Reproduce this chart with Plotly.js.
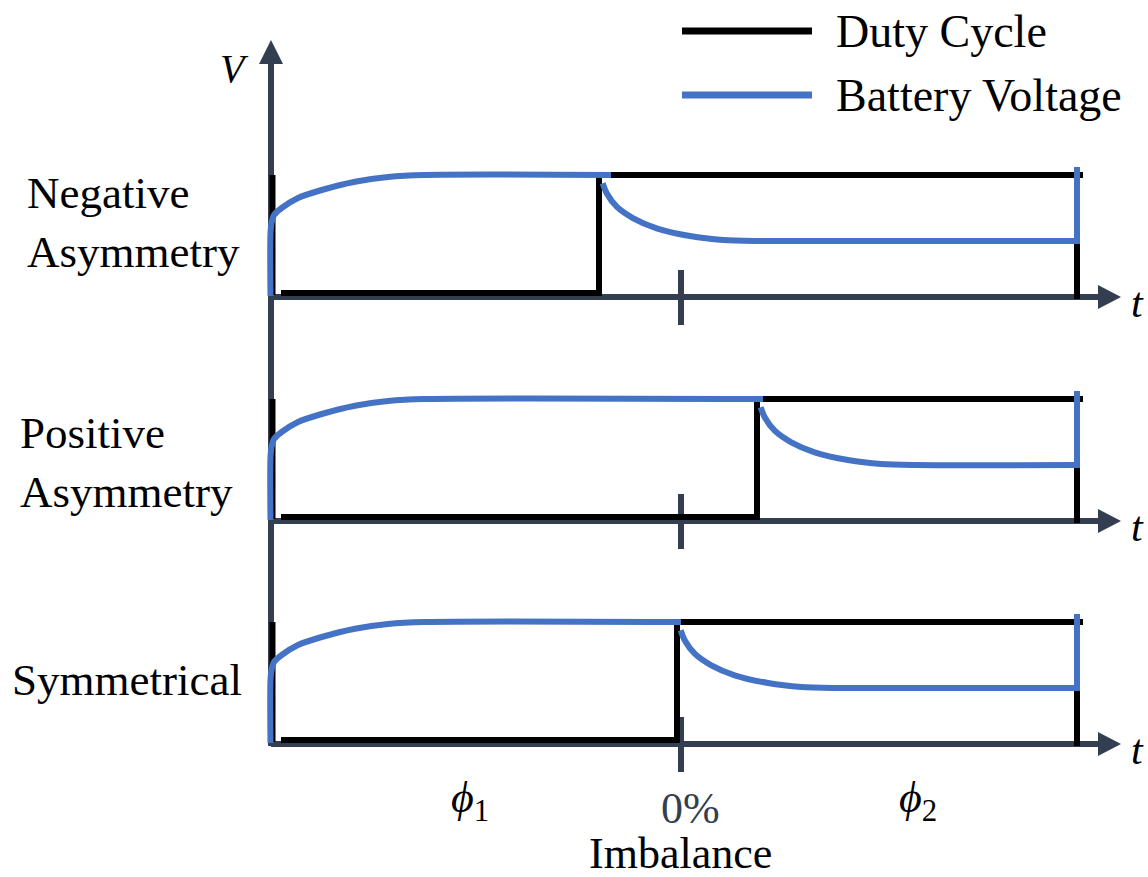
<!DOCTYPE html>
<html><head><meta charset="utf-8">
<script src="https://cdn.plot.ly/plotly-3.0.1.min.js"></script>
</head><body style="margin:0;padding:0;background:#fff;"><div id="chart" style="width:1148px;height:877px;"></div>
<script>
// ---- schematic data (drawing units) ----
const panelLabels = ['Negative<br>Asymmetry', 'Positive<br>Asymmetry', 'Symmetrical'];
const panelLabelX = [25, 18, 10];
const panelLabelY = [222, 462, 680];
const baselines = [297, 521, 744];          // time axis of each panel
const switchTimes = [599, 757, 677];        // duty cycle switching instant
const blueFlatEnds = [611, 763, 681];
const periodStart = 271;
const periodEnd = 1077;
const dutyEnd = 1083;
const zeroImbalance = 681;
const dutyHighLevel = 122;
const dutyLowLevel = 4;
const lowStartGap = 10;
// battery voltage rise (time after start, level above axis)
const riseTime  = [-0.5, -0.5, 0.7, 3, 10.7, 27, 50.7, 84, 117, 154];
const riseLevel = [1, 64, 75, 82, 89, 99, 107, 115.3, 120, 122];
// battery voltage decay (time after switch, level above axis)
const decayTime  = [3.7, 7.7, 17.7, 34.3, 57.7, 91, 124.3, 157.7];
const decayLevel = [113.7, 103.7, 90.3, 78.7, 68.7, 61, 57, 56];
const settledLevel = 56;
const endSpikeLevel = 130;
const seriesNames = ['Duty Cycle', 'Battery Voltage'];
const seriesColors = ['#000000', '#4472C4'];
const axisColor = '#333F50';
const FONT = 'Liberation Serif';

const traces = [];
baselines.forEach((b, i) => {
  const sw = switchTimes[i];
  traces.push({
    type: 'scatter', mode: 'lines', name: seriesNames[0], hoverinfo: 'skip',
    x: [periodStart + 1.5, periodStart + 1.5, null, periodStart + lowStartGap, sw, sw, dutyEnd, null, periodEnd, periodEnd],
    y: [b - dutyHighLevel, b - dutyLowLevel + 2, null, b - dutyLowLevel, b - dutyLowLevel, b - dutyHighLevel, b - dutyHighLevel, null, b - dutyHighLevel, b + 2],
    line: {color: seriesColors[0], width: 6}
  });
});
baselines.forEach((b, i) => {
  const sw = switchTimes[i];
  traces.push({
    type: 'scatter', mode: 'lines', name: seriesNames[1], hoverinfo: 'skip',
    x: riseTime.map(t => periodStart + t).concat([blueFlatEnds[i]]),
    y: riseLevel.map(v => b - v).concat([b - dutyHighLevel]),
    line: {color: seriesColors[1], width: 6, shape: 'spline', smoothing: 0.8}
  });
  traces.push({
    type: 'scatter', mode: 'lines', name: seriesNames[1], hoverinfo: 'skip',
    x: decayTime.map(t => sw + t).concat([periodEnd]),
    y: decayLevel.map(v => b - v).concat([b - settledLevel]),
    line: {color: seriesColors[1], width: 6, shape: 'spline', smoothing: 0.8}
  });
  traces.push({
    type: 'scatter', mode: 'lines', name: seriesNames[1], hoverinfo: 'skip',
    x: [periodEnd, periodEnd], y: [b - settledLevel + 3, b - endSpikeLevel],
    line: {color: seriesColors[1], width: 6}
  });
});
const legendLineX = [682, 812];
const legendY = [31, 95];
seriesNames.forEach((n, i) => {
  traces.push({
    type: 'scatter', mode: 'lines', name: n, hoverinfo: 'skip',
    x: legendLineX, y: [legendY[i], legendY[i]],
    line: {color: seriesColors[i], width: 7}
  });
});

const shapes = [];
const vTop = 62, vBottom = 746, arrowTip = 40;
shapes.push({type: 'line', layer: 'below', x0: periodStart, x1: periodStart, y0: vBottom, y1: vTop,
  line: {color: axisColor, width: 6}});
shapes.push({type: 'path', layer: 'below', fillcolor: axisColor, line: {width: 0},
  path: `M ${periodStart} ${arrowTip} L ${periodStart - 12} ${vTop + 2} L ${periodStart + 12} ${vTop + 2} Z`});
const hEnd = 1098, hTip = 1121;
baselines.forEach(b => {
  shapes.push({type: 'line', layer: 'below', x0: periodStart, x1: hEnd + 2, y0: b, y1: b,
    line: {color: axisColor, width: 6}});
  shapes.push({type: 'path', layer: 'below', fillcolor: axisColor, line: {width: 0},
    path: `M ${hTip} ${b} L ${hEnd} ${b - 12} L ${hEnd} ${b + 12} Z`});
  shapes.push({type: 'line', layer: 'below', x0: zeroImbalance, x1: zeroImbalance, y0: b - 27, y1: b + 28,
    line: {color: axisColor, width: 6}});
});

const ann = [];
panelLabels.forEach((t, i) => {
  ann.push({text: t, x: panelLabelX[i], y: panelLabelY[i], xref: 'x', yref: 'y', xanchor: 'left', yanchor: 'middle',
    align: 'left', showarrow: false, font: {family: FONT, size: 45, color: '#000000'}});
});
seriesNames.forEach((n, i) => {
  ann.push({text: n, x: 834, y: legendY[i], xref: 'x', yref: 'y', xanchor: 'left', yanchor: 'middle',
    showarrow: false, font: {family: FONT, size: 46, color: '#000000'}});
});
ann.push({text: '<i>V</i>', x: 234, y: 68, xref: 'x', yref: 'y', showarrow: false,
  font: {family: FONT, size: 40, color: '#000000'}});
baselines.forEach(b => {
  ann.push({text: '<i>t</i>', x: 1137, y: b + 6, xref: 'x', yref: 'y', showarrow: false,
    font: {family: FONT, size: 42, color: '#000000'}});
});
ann.push({text: '<i>ϕ</i><sub>1</sub>', x: 470, y: 800, xref: 'x', yref: 'y', showarrow: false,
  font: {family: FONT, size: 44, color: '#000000'}});
ann.push({text: '<i>ϕ</i><sub>2</sub>', x: 918, y: 800, xref: 'x', yref: 'y', showarrow: false,
  font: {family: FONT, size: 44, color: '#000000'}});
ann.push({text: '0%', x: 690, y: 808, xref: 'x', yref: 'y', showarrow: false,
  font: {family: FONT, size: 44, color: axisColor}});
ann.push({text: 'Imbalance', x: 680, y: 853, xref: 'x', yref: 'y', showarrow: false,
  font: {family: FONT, size: 44, color: '#000000'}});

const layout = {
  width: 1148, height: 877, margin: {l: 0, r: 0, t: 0, b: 0},
  font: {family: FONT, color: '#000000'},
  paper_bgcolor: '#ffffff', plot_bgcolor: '#ffffff', showlegend: false,
  xaxis: {range: [0, 1148], visible: false, fixedrange: true},
  yaxis: {range: [877, 0], visible: false, fixedrange: true},
  shapes: shapes, annotations: ann
};
Plotly.newPlot('chart', traces, layout, {displayModeBar: false});
</script></body></html>
